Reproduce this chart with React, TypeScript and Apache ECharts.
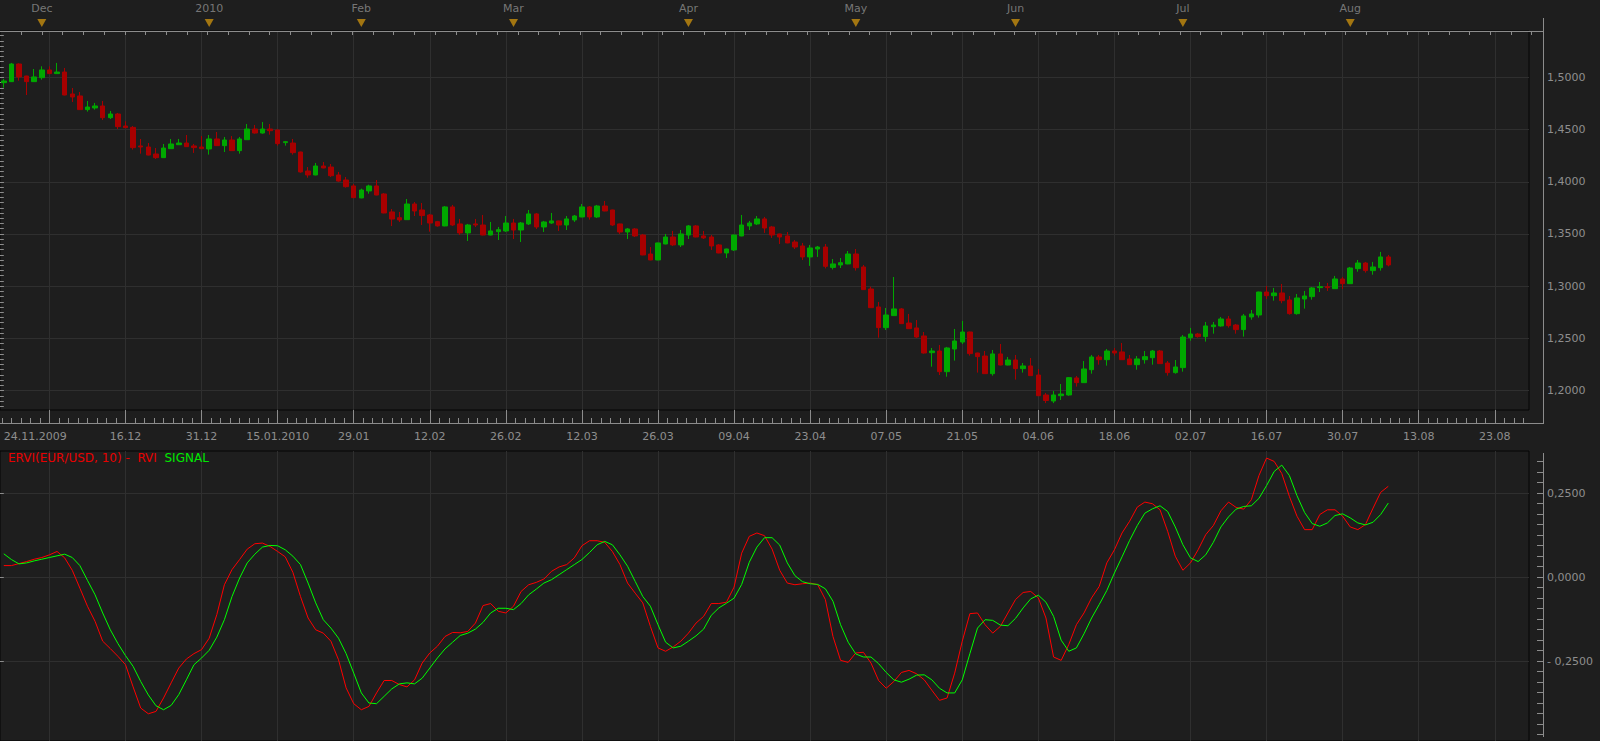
import React, { useEffect, useRef } from "react";
import * as echarts from "echarts";

// ---------- price data (EUR/USD daily, 24.11.2009 .. 09.08.2010) ----------
const open = [
  1.4949, 1.4959, 1.5128, 1.5013, 1.4959, 1.4997, 1.5071, 1.5036, 1.5051, 1.4841,
  1.4822, 1.4691, 1.4707, 1.4726, 1.4614, 1.4649, 1.4534, 1.4521, 1.4343, 1.4333,
  1.4266, 1.4231, 1.4317, 1.4355, 1.4371, 1.4343, 1.4333, 1.4314, 1.441, 1.4346,
  1.44, 1.4298, 1.4403, 1.4505, 1.4467, 1.4505, 1.4496, 1.4375, 1.4371, 1.4285,
  1.4103, 1.4065, 1.4151, 1.4141, 1.4065, 1.4017, 1.396, 1.3845, 1.3912, 1.396,
  1.3883, 1.3711, 1.3656, 1.3637, 1.3787, 1.373, 1.3682, 1.3618, 1.3577, 1.3759,
  1.3596, 1.351, 1.3596, 1.3586, 1.349, 1.3522, 1.3529, 1.3605, 1.3538, 1.3596,
  1.3692, 1.3567, 1.3605, 1.3625, 1.3586, 1.3634, 1.3663, 1.3759, 1.3663, 1.3768,
  1.373, 1.3596, 1.3519, 1.3548, 1.349, 1.3308, 1.3251, 1.3404, 1.3471, 1.3395,
  1.349, 1.3577, 1.3481, 1.3471, 1.3395, 1.3318, 1.3347, 1.3481, 1.3577, 1.3596,
  1.3644, 1.3567, 1.35, 1.3481, 1.3423, 1.3385, 1.328, 1.3356, 1.3375, 1.318,
  1.3203, 1.3213, 1.3308, 1.3184, 1.2973, 1.2801, 1.2603, 1.2718, 1.2782, 1.2647,
  1.26, 1.2523, 1.2363, 1.2379, 1.2181, 1.2398, 1.2465, 1.2561, 1.236, 1.2331,
  1.2162, 1.2351, 1.2245, 1.2293, 1.221, 1.2236, 1.2149, 1.1958, 1.19, 1.1951,
  1.1958, 1.2121, 1.2076, 1.22, 1.2322, 1.2296, 1.2379, 1.237, 1.2303, 1.2248,
  1.2296, 1.2315, 1.2379, 1.2264, 1.2172, 1.222, 1.2507, 1.2542, 1.2517, 1.2612,
  1.2619, 1.2686, 1.2628, 1.2584, 1.2705, 1.2724, 1.2944, 1.2909, 1.2935, 1.2868,
  1.2737, 1.2877, 1.29, 1.2986, 1.2995, 1.2976, 1.3069, 1.3024, 1.3168, 1.3222,
  1.3149, 1.3177, 1.328,
];
const high = [
  1.4984, 1.5138, 1.5134, 1.5015, 1.508, 1.5106, 1.5106, 1.5138, 1.509, 1.4898,
  1.486, 1.4774, 1.4755, 1.4774, 1.4678, 1.4659, 1.4579, 1.4534, 1.441, 1.4371,
  1.4323, 1.4362, 1.441, 1.441, 1.4448, 1.4362, 1.4438, 1.4448, 1.4477, 1.4429,
  1.4438, 1.4429, 1.4553, 1.4544, 1.4572, 1.4553, 1.4499, 1.4391, 1.441, 1.4288,
  1.4141, 1.418, 1.4189, 1.417, 1.4094, 1.4046, 1.3979, 1.3934, 1.3972, 1.4017,
  1.3892, 1.3739, 1.3711, 1.3835, 1.3806, 1.3797, 1.3692, 1.3625, 1.3768, 1.3778,
  1.3644, 1.3596, 1.3644, 1.3682, 1.3615, 1.3567, 1.3672, 1.3644, 1.3615, 1.373,
  1.3701, 1.3625, 1.3701, 1.3628, 1.3672, 1.3682, 1.3787, 1.3768, 1.3778, 1.3816,
  1.3733, 1.3599, 1.3557, 1.3557, 1.35, 1.3375, 1.3417, 1.35, 1.3529, 1.3538,
  1.3586, 1.3586, 1.3529, 1.349, 1.3404, 1.3359, 1.3493, 1.3682, 1.3625, 1.3672,
  1.3663, 1.3577, 1.3503, 1.3519, 1.3442, 1.3414, 1.3395, 1.3385, 1.3404, 1.326,
  1.327, 1.3337, 1.3356, 1.3203, 1.2995, 1.2849, 1.2791, 1.3088, 1.2791, 1.2734,
  1.2676, 1.2561, 1.2408, 1.2437, 1.2418, 1.259, 1.2667, 1.2564, 1.2363, 1.2379,
  1.2389, 1.2446, 1.2322, 1.2341, 1.2264, 1.2312, 1.2207, 1.1977, 1.1996, 1.2063,
  1.213, 1.214, 1.2283, 1.2341, 1.2341, 1.2398, 1.2408, 1.2456, 1.2341, 1.2331,
  1.2379, 1.2389, 1.2389, 1.2283, 1.2293, 1.2532, 1.26, 1.2552, 1.2657, 1.2657,
  1.2705, 1.2715, 1.2638, 1.2734, 1.2772, 1.2947, 1.3002, 1.2983, 1.3021, 1.2906,
  1.2925, 1.2954, 1.2992, 1.304, 1.3031, 1.3098, 1.3088, 1.3184, 1.3251, 1.3232,
  1.3232, 1.3328, 1.3299,
];
const low = [
  1.4901, 1.4955, 1.4968, 1.4831, 1.4955, 1.4978, 1.5033, 1.5033, 1.4828, 1.4764,
  1.4688, 1.4672, 1.4691, 1.4592, 1.4601, 1.4505, 1.4515, 1.4308, 1.4269, 1.4253,
  1.4218, 1.4228, 1.4314, 1.4352, 1.4333, 1.4276, 1.4314, 1.426, 1.4343, 1.4285,
  1.4295, 1.4269, 1.44, 1.4461, 1.4461, 1.4451, 1.4346, 1.4346, 1.426, 1.4087,
  1.4039, 1.4062, 1.4129, 1.4046, 1.4001, 1.3944, 1.3845, 1.3842, 1.3886, 1.387,
  1.3698, 1.3576, 1.3615, 1.3634, 1.3672, 1.3586, 1.3522, 1.357, 1.3574, 1.3577,
  1.349, 1.3433, 1.3567, 1.3487, 1.3487, 1.3442, 1.3519, 1.3452, 1.3423, 1.3586,
  1.3548, 1.3519, 1.3596, 1.3529, 1.3538, 1.3615, 1.366, 1.3637, 1.3653, 1.3717,
  1.3577, 1.35, 1.3452, 1.3471, 1.3296, 1.3248, 1.3248, 1.3401, 1.3385, 1.3375,
  1.3452, 1.3468, 1.3452, 1.3347, 1.3315, 1.327, 1.3337, 1.3478, 1.3538, 1.3586,
  1.351, 1.3462, 1.3404, 1.3411, 1.3356, 1.3251, 1.3194, 1.328, 1.317, 1.316,
  1.3174, 1.321, 1.3149, 1.2964, 1.2791, 1.2507, 1.258, 1.2715, 1.2638, 1.259,
  1.2504, 1.2354, 1.2229, 1.2149, 1.2133, 1.2287, 1.2446, 1.2335, 1.2172, 1.2159,
  1.2143, 1.2242, 1.2242, 1.2105, 1.2172, 1.214, 1.1948, 1.188, 1.188, 1.191,
  1.1951, 1.2038, 1.2073, 1.2162, 1.2248, 1.2239, 1.2335, 1.2293, 1.2245, 1.22,
  1.2258, 1.2248, 1.2255, 1.2143, 1.2162, 1.2181, 1.2478, 1.2507, 1.2469, 1.2545,
  1.2612, 1.2603, 1.2545, 1.2517, 1.2679, 1.2699, 1.2877, 1.2861, 1.2836, 1.2727,
  1.2727, 1.2785, 1.2871, 1.2944, 1.2954, 1.2973, 1.2973, 1.3021, 1.3139, 1.313,
  1.311, 1.3149, 1.319,
];
const close = [
  1.4965, 1.5128, 1.5004, 1.4959, 1.5004, 1.5071, 1.5036, 1.5051, 1.4831, 1.4812,
  1.4691, 1.4716, 1.4726, 1.4614, 1.4649, 1.4528, 1.4518, 1.4327, 1.4333, 1.4256,
  1.4231, 1.4323, 1.4362, 1.4371, 1.4336, 1.4327, 1.4317, 1.441, 1.4346, 1.44,
  1.4298, 1.441, 1.4505, 1.4467, 1.4505, 1.4489, 1.4365, 1.4384, 1.4279, 1.4094,
  1.4065, 1.4151, 1.4132, 1.4058, 1.4007, 1.3953, 1.3848, 1.3921, 1.396, 1.3873,
  1.3701, 1.3643, 1.3634, 1.3787, 1.372, 1.3676, 1.3605, 1.3577, 1.3759, 1.3586,
  1.351, 1.3586, 1.3586, 1.349, 1.3529, 1.3541, 1.3605, 1.3538, 1.3605, 1.3692,
  1.3567, 1.3615, 1.3625, 1.3586, 1.3644, 1.3672, 1.3759, 1.3663, 1.3768, 1.372,
  1.3586, 1.3519, 1.3548, 1.3481, 1.3299, 1.3251, 1.3414, 1.3471, 1.3395, 1.35,
  1.3577, 1.3471, 1.3462, 1.3385, 1.3318, 1.3356, 1.349, 1.3586, 1.3605, 1.3644,
  1.3557, 1.349, 1.3471, 1.3414, 1.3375, 1.328, 1.3366, 1.3375, 1.319, 1.3213,
  1.3225, 1.3308, 1.3177, 1.2967, 1.2794, 1.2603, 1.2724, 1.2782, 1.2641, 1.2593,
  1.2513, 1.236, 1.2379, 1.2181, 1.2408, 1.2475, 1.2561, 1.2354, 1.2325, 1.2162,
  1.2351, 1.2245, 1.2293, 1.221, 1.2236, 1.2143, 1.1951, 1.1905, 1.1958, 1.1967,
  1.2124, 1.2076, 1.2207, 1.2322, 1.2296, 1.2379, 1.236, 1.2296, 1.2248, 1.2303,
  1.2325, 1.2379, 1.2258, 1.2172, 1.2226, 1.2513, 1.2542, 1.2517, 1.2619, 1.2628,
  1.2686, 1.2622, 1.2584, 1.2715, 1.2734, 1.2944, 1.2909, 1.2935, 1.2861, 1.2737,
  1.2887, 1.2906, 1.2983, 1.2995, 1.2986, 1.3069, 1.3024, 1.3174, 1.3222, 1.3149,
  1.3184, 1.328, 1.3203,
];

// ---------- ERVI(EUR/USD, 10) ----------
const rvi = [
  0.034, 0.034, 0.04, 0.046, 0.053, 0.058, 0.066, 0.076, 0.057, 0.02,
  -0.033, -0.087, -0.132, -0.191, -0.213, -0.236, -0.261, -0.327, -0.39, -0.407,
  -0.4, -0.36, -0.315, -0.271, -0.244, -0.228, -0.216, -0.182, -0.112, -0.023,
  0.022, 0.052, 0.083, 0.099, 0.101, 0.091, 0.076, 0.06, 0.014, -0.058,
  -0.122, -0.157, -0.167, -0.191, -0.246, -0.33, -0.377, -0.395, -0.385, -0.345,
  -0.308, -0.308, -0.32, -0.327, -0.306, -0.256, -0.226, -0.206, -0.177, -0.165,
  -0.166, -0.162, -0.137, -0.085, -0.079, -0.102, -0.107, -0.087, -0.043, -0.023,
  -0.016, -0.006, 0.017, 0.03, 0.037, 0.057, 0.093, 0.108, 0.108, 0.103,
  0.076, 0.037, -0.018, -0.048, -0.077, -0.147, -0.211, -0.221, -0.208, -0.191,
  -0.167, -0.137, -0.117, -0.079, -0.079, -0.075, -0.03, 0.071, 0.121, 0.131,
  0.123, 0.083, 0.02, -0.018, -0.023, -0.02, -0.018, -0.023, -0.067, -0.177,
  -0.248, -0.254, -0.226, -0.224, -0.256, -0.308, -0.331, -0.311, -0.284, -0.278,
  -0.288, -0.306, -0.337, -0.367, -0.36, -0.286, -0.191, -0.109, -0.107, -0.142,
  -0.167, -0.147, -0.107, -0.067, -0.046, -0.043, -0.062, -0.122, -0.238, -0.248,
  -0.201, -0.142, -0.107, -0.062, -0.028, 0.042, 0.081, 0.131, 0.166, 0.208,
  0.223, 0.218, 0.2, 0.136, 0.062, 0.02, 0.042, 0.081, 0.126, 0.153,
  0.197, 0.223, 0.207, 0.202, 0.23, 0.302, 0.354, 0.344, 0.308, 0.24,
  0.181, 0.141, 0.141, 0.186, 0.2, 0.2, 0.181, 0.149, 0.141, 0.156,
  0.205, 0.252, 0.27,
];
const signal = [
  0.069, 0.052, 0.039, 0.042, 0.048, 0.053, 0.058, 0.063, 0.068, 0.058,
  0.034, -0.01, -0.053, -0.107, -0.157, -0.198, -0.234, -0.266, -0.311, -0.351,
  -0.383, -0.395, -0.382, -0.35, -0.306, -0.261, -0.241, -0.218, -0.179, -0.127,
  -0.058, -0.003, 0.042, 0.068, 0.089, 0.094, 0.093, 0.081, 0.062, 0.037,
  -0.018, -0.077, -0.127, -0.152, -0.182, -0.228, -0.286, -0.345, -0.375, -0.377,
  -0.355, -0.333, -0.318, -0.315, -0.318, -0.301, -0.271, -0.241, -0.214, -0.194,
  -0.174, -0.167, -0.155, -0.135, -0.107, -0.093, -0.093, -0.097, -0.079, -0.053,
  -0.036, -0.018, -0.008, 0.007, 0.022, 0.037, 0.052, 0.073, 0.096, 0.106,
  0.096, 0.066, 0.032, -0.013, -0.058, -0.087, -0.142, -0.194, -0.211, -0.206,
  -0.191, -0.175, -0.155, -0.114, -0.092, -0.078, -0.063, -0.022, 0.044, 0.089,
  0.117, 0.117, 0.095, 0.042, 0.004, -0.014, -0.02, -0.022, -0.035, -0.072,
  -0.142, -0.194, -0.229, -0.238, -0.238, -0.258, -0.284, -0.306, -0.313, -0.304,
  -0.292, -0.291, -0.306, -0.331, -0.345, -0.345, -0.306, -0.228, -0.152, -0.127,
  -0.129, -0.143, -0.145, -0.123, -0.092, -0.065, -0.054, -0.075, -0.117, -0.188,
  -0.221, -0.211, -0.169, -0.122, -0.082, -0.04, 0.012, 0.06, 0.109, 0.153,
  0.19, 0.203, 0.212, 0.195, 0.149, 0.096, 0.057, 0.046, 0.066, 0.103,
  0.149, 0.179, 0.202, 0.21, 0.212, 0.234, 0.272, 0.314, 0.333, 0.302,
  0.242, 0.192, 0.159, 0.151, 0.161, 0.183, 0.188, 0.176, 0.161, 0.155,
  0.163, 0.186, 0.22,
];

// ---------- axes: tick labels ----------
const monthIdx = [5, 27, 47, 67, 90, 112, 133, 155, 177];
const monthNames = ["Dec", "2010", "Feb", "Mar", "Apr", "May", "Jun", "Jul", "Aug"];
const dateTickIdx = [6, 16, 26, 36, 46, 56, 66, 76, 86, 96, 106, 116, 126, 136, 146, 156, 166, 176, 186, 196];
const dateLabelIdx = [0, 16, 26, 36, 46, 56, 66, 76, 86, 96, 106, 116, 126, 136, 146, 156, 166, 176, 186, 196];
const dateLabels = [
  "24.11.2009", "16.12", "31.12", "15.01.2010", "29.01", "12.02", "26.02", "12.03", "26.03", "09.04",
  "23.04", "07.05", "21.05", "04.06", "18.06", "02.07", "16.07", "30.07", "13.08", "23.08",
];
const priceTicks = [1.2, 1.25, 1.3, 1.35, 1.4, 1.45, 1.5];
const rviTicks = [-0.25, 0, 0.25];

const BG = "#1e1e1e";
const GRID_LINE = "#2f2f2f";
const AXIS = "#8c8c8c";
const LABEL = "#8e8e8e";
const FONT = "DejaVu Sans";
const UP = "#00a800";
const DOWN = "#a80000";

export default function App() {
  const ref = useRef<HTMLDivElement>(null);

  useEffect(() => {
    document.body.style.margin = "0";
    document.body.style.background = BG;
    const chart = echarts.init(ref.current as HTMLDivElement, null, { renderer: "svg" });

    const XMIN = -0.5;
    const XMAX = 200.5;
    const bandPx = 1529 / (XMAX - XMIN);
    const stripMax = XMIN + 1543 / bandPx;

    const minorDate: number[] = [];
    for (let k = -5; k <= 156; k++) {
      const v = 6 + 1.25 * k;
      if (v < XMIN || v > XMAX) continue;
      if (k % 8 === 0) continue;
      minorDate.push(+v.toFixed(3));
    }
    const stripTicks: number[] = [];
    for (let v = 2.3; v < stripMax; v += 2.72) stripTicks.push(+v.toFixed(3));
    const priceMinor: number[] = [];
    for (let k = 237; k <= 308; k++) priceMinor.push(+(k * 0.005).toFixed(4));
    const rviMinor: number[] = [];
    for (let k = -15; k <= 11; k++) rviMinor.push(k * 0.03125);

    const candles = open.map((o, i) => [i, o, close[i], low[i], high[i]]);
    const fmtPrice = (v: number) => v.toFixed(4).replace(".", ",");
    const fmtRvi = (v: number) =>
      (v < -1e-9 ? "- " : "") + Math.abs(v).toFixed(4).replace(".", ",");

    const labelStyle = { color: LABEL, fontFamily: FONT, fontSize: 11, fontWeight: "normal" };

    const option: any = {
      animation: false,
      backgroundColor: BG,
      title: {
        left: 8,
        top: 452,
        padding: 0,
        text: "{r|ERVI(EUR/USD, 10) -  RVI}  {g|SIGNAL}",
        textStyle: {
          fontWeight: "normal",
          fontSize: 12,
          fontFamily: FONT,
          rich: {
            r: { color: "#e80000", fontFamily: FONT, fontSize: 12, fontWeight: "normal" },
            g: { color: "#00e800", fontFamily: FONT, fontSize: 12, fontWeight: "normal" },
          },
        },
      },
      grid: [
        { left: 0, top: 18, width: 1543, height: 13, show: false },
        { left: 0, top: 31, width: 1529, height: 379, show: true, borderColor: "#050505", borderWidth: 1, backgroundColor: "transparent" },
        { left: 0, top: 451, width: 1529, height: 290, show: true, borderColor: "#050505", borderWidth: 1, backgroundColor: "transparent" },
      ],
      xAxis: [
        {
          type: "value", gridIndex: 0, position: "top", min: XMIN, max: stripMax,
          axisLine: { show: true, lineStyle: { color: AXIS, width: 1 } },
          axisTick: { show: true, inside: true, length: 4, lineStyle: { color: AXIS }, customValues: stripTicks },
          axisLabel: { show: false },
          splitLine: { show: false },
        },
        {
          type: "value", gridIndex: 1, position: "bottom", offset: 13, min: XMIN, max: XMAX,
          axisLine: { show: false },
          axisTick: { show: true, inside: true, length: 13, lineStyle: { color: AXIS }, customValues: dateTickIdx },
          axisLabel: {
            show: true, margin: 8, ...labelStyle, customValues: dateLabelIdx, alignMinLabel: "left",
            formatter: (v: number) => {
              const k = dateLabelIdx.indexOf(Math.round(v));
              return k >= 0 ? dateLabels[k] : "";
            },
          },
          splitLine: { show: true, lineStyle: { color: GRID_LINE, width: 1 } },
        },
        {
          type: "value", gridIndex: 1, position: "bottom", offset: 13, min: XMIN, max: XMAX,
          axisLine: { show: false },
          axisTick: { show: true, inside: true, length: 5, lineStyle: { color: AXIS }, customValues: minorDate },
          axisLabel: { show: false },
          splitLine: { show: false },
        },
        {
          type: "value", gridIndex: 2, min: XMIN, max: XMAX,
          axisLine: { show: false },
          axisTick: { show: false, customValues: dateTickIdx },
          axisLabel: { show: false },
          splitLine: { show: true, lineStyle: { color: GRID_LINE, width: 1 } },
        },
      ],
      yAxis: [
        { type: "value", gridIndex: 0, min: 0, max: 1, show: false },
        {
          type: "value", gridIndex: 1, position: "right", offset: 14, min: 1.1814, max: 1.5444,
          axisLine: { show: false },
          axisTick: { show: true, inside: true, length: 14, lineStyle: { color: AXIS }, customValues: priceTicks },
          axisLabel: { show: true, margin: 4, ...labelStyle, padding: [3, 0, 0, 0], customValues: priceTicks, formatter: fmtPrice },
          splitLine: { show: true, lineStyle: { color: GRID_LINE, width: 1 } },
        },
        {
          type: "value", gridIndex: 1, position: "right", offset: 14, min: 1.1814, max: 1.5444,
          axisLine: { show: false },
          axisTick: { show: true, inside: true, length: 6, lineStyle: { color: AXIS }, customValues: priceMinor },
          axisLabel: { show: false },
          splitLine: { show: false },
        },
        {
          type: "value", gridIndex: 2, position: "right", offset: 14, min: -0.488, max: 0.375,
          axisLine: { show: false },
          axisTick: { show: true, inside: true, length: 14, lineStyle: { color: AXIS }, customValues: rviTicks },
          axisLabel: { show: true, margin: 4, ...labelStyle, padding: [3, 0, 0, 0], customValues: rviTicks, formatter: fmtRvi },
          splitLine: { show: true, lineStyle: { color: GRID_LINE, width: 1 } },
        },
        {
          type: "value", gridIndex: 2, position: "right", offset: 14, min: -0.488, max: 0.375,
          axisLine: { show: false },
          axisTick: { show: true, inside: true, length: 6, lineStyle: { color: AXIS }, customValues: rviMinor },
          axisLabel: { show: false },
          splitLine: { show: false },
        },
      ],
      graphic: [
        { type: "line", silent: true, shape: { x1: 1543.5, y1: 18, x2: 1543.5, y2: 424 }, style: { stroke: AXIS, lineWidth: 1 } },
        { type: "line", silent: true, shape: { x1: 1543.5, y1: 453, x2: 1543.5, y2: 737 }, style: { stroke: AXIS, lineWidth: 1 } },
        { type: "line", silent: true, shape: { x1: 0, y1: 423.5, x2: 1543.5, y2: 423.5 }, style: { stroke: AXIS, lineWidth: 1 } },
      ],
      series: [
        {
          type: "scatter", xAxisIndex: 0, yAxisIndex: 0,
          data: monthIdx.map((m) => [m, 0.62]),
          symbol: "triangle", symbolRotate: 180, symbolSize: [9, 8],
          itemStyle: { color: "#c48c0e" },
          label: {
            show: true, position: "inside", offset: [0, -14], ...labelStyle,
            formatter: (p: any) => monthNames[p.dataIndex],
          },
          z: 5,
        },
        {
          type: "candlestick", xAxisIndex: 1, yAxisIndex: 1,
          data: candles,
          encode: { x: 0, y: [1, 2, 3, 4] },
          barWidth: 5,
          itemStyle: { color: UP, color0: DOWN, borderColor: UP, borderColor0: DOWN, borderWidth: 1 },
        },
        {
          type: "line", name: "RVI", xAxisIndex: 3, yAxisIndex: 3,
          data: rvi.map((v, i) => [i, v]),
          showSymbol: false, symbol: "none",
          lineStyle: { color: "#ff0000", width: 1 }, itemStyle: { color: "#ff0000" },
        },
        {
          type: "line", name: "SIGNAL", xAxisIndex: 3, yAxisIndex: 3,
          data: signal.map((v, i) => [i, v]),
          showSymbol: false, symbol: "none",
          lineStyle: { color: "#00ff00", width: 1 }, itemStyle: { color: "#00ff00" },
        },
      ],
    };

    chart.setOption(option);
    return () => chart.dispose();
  }, []);

  return <div ref={ref} style={{ width: 1600, height: 741, background: BG }} />;
}
